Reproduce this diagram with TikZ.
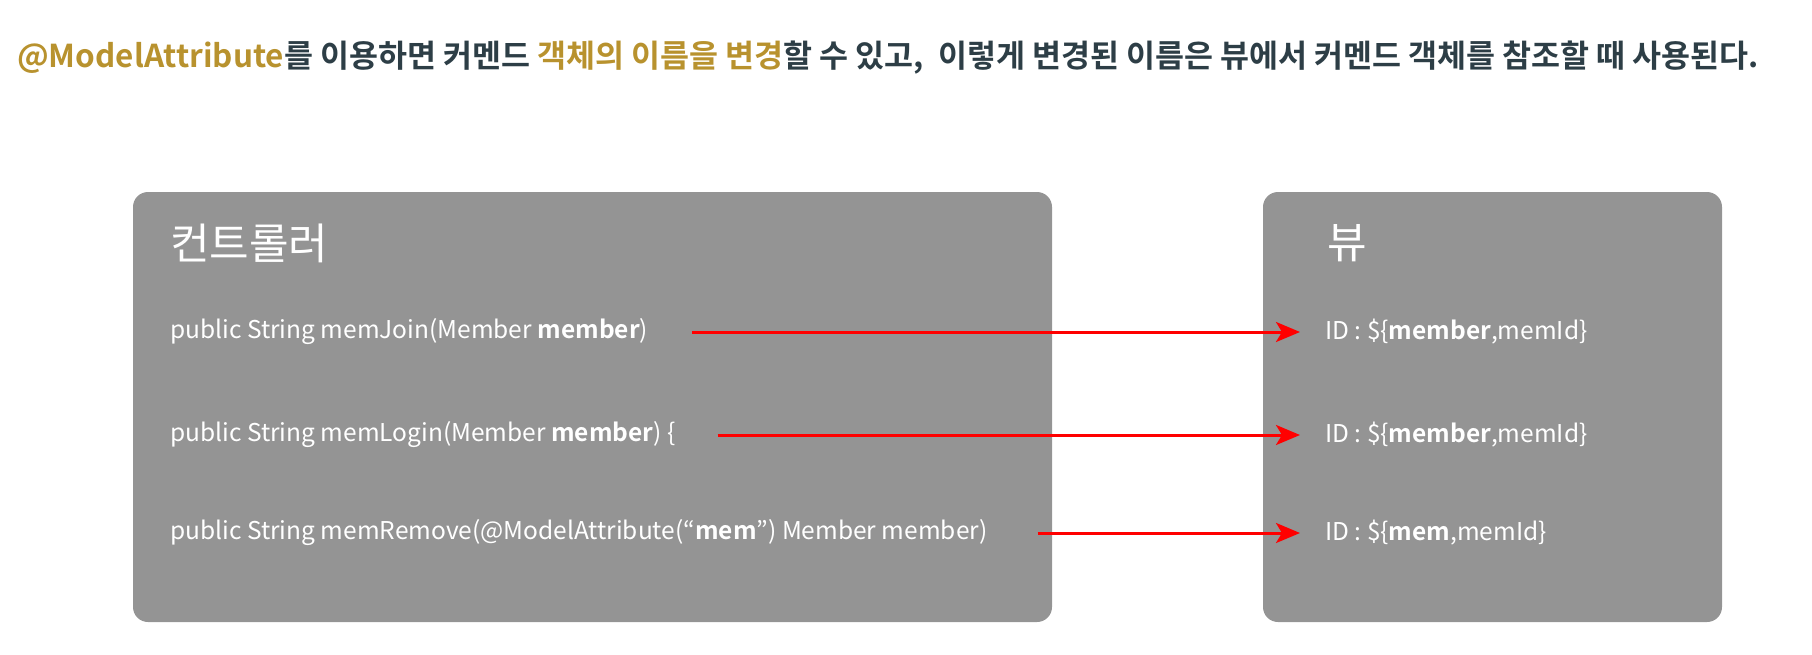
\documentclass[tikz,border=0pt]{standalone}
\usepackage{fontspec}
\usepackage{xcolor}
\usetikzlibrary{positioning,arrows.meta}
\newfontfamily\krtitle{Noto Sans CJK KR Bold}
\newfontfamily\krfont[BoldFont={Noto Sans CJK KR Bold}]{Noto Sans CJK KR}
\definecolor{titleink}{RGB}{45,62,70}
\definecolor{attrgold}{RGB}{184,146,46}
\definecolor{panelgray}{RGB}{148,148,148}
\tikzset{
  panel/.style={fill=panelgray, rounded corners=15pt},
  head/.style={anchor=west, text=white, inner sep=0pt,
               font=\krfont\fontsize{43}{46}\selectfont},
  code/.style={anchor=west, text=white, inner sep=0pt,
               font=\krfont\fontsize{24.5}{28}\selectfont},
  bind/.style={-{Stealth[length=24pt, width=20pt, inset=6pt]}, line width=3pt, red}
}

\begin{document}
\begin{tikzpicture}[x=1pt, y=-1pt]
  \useasboundingbox (0,0) rectangle (1812,654);
  % title line
  \node[anchor=west, inner sep=0pt, text=titleink, font=\krtitle\fontsize{31.5}{34}\selectfont] (title) at (17,58)
    {{\color{attrgold}@ModelAttribute}를 이용하면 커멘드 {\color{attrgold}객체의 이름을 변경}할 수 있고,\ \ 이렇게 변경된 이름은 뷰에서 커멘드 객체를 참조할 때 사용된다.};

  % panels
  \fill[panel] (133,192) rectangle (1052,622);
  \fill[panel] (1263,192) rectangle (1722,622);
  \node[head] (ctrl) at (170,243) {컨트롤러};
  \node[head] (view) at (1327,243) {뷰};

  % controller methods
  \node[code] (join) at (170,332) {public String memJoin(Member \textbf{member})};
  \node[code] (login) at (170,435) {public String memLogin(Member \textbf{member}) \{};
  \node[code] (remove) at (170,533) {public String memRemove(@ModelAttribute(“\textbf{mem}”) Member member)};

  % view expressions
  \node[code] (vjoin) at (1325,332) {ID : \$\{\textbf{member},memId\}};
  \node[code] (vlogin) at (1325,435) {ID : \$\{\textbf{member},memId\}};
  \node[code] (vremove) at (1325,533) {ID : \$\{\textbf{mem},memId\}};

  \draw[bind] ([xshift=44pt]join.east) -- ([xshift=-25pt]vjoin.west);
  \draw[bind] ([xshift=42pt]login.east) -- ([xshift=-25pt]vlogin.west);
  \draw[bind] ([xshift=50pt]remove.east) -- ([xshift=-25pt]vremove.west);
\end{tikzpicture}
\end{document}
